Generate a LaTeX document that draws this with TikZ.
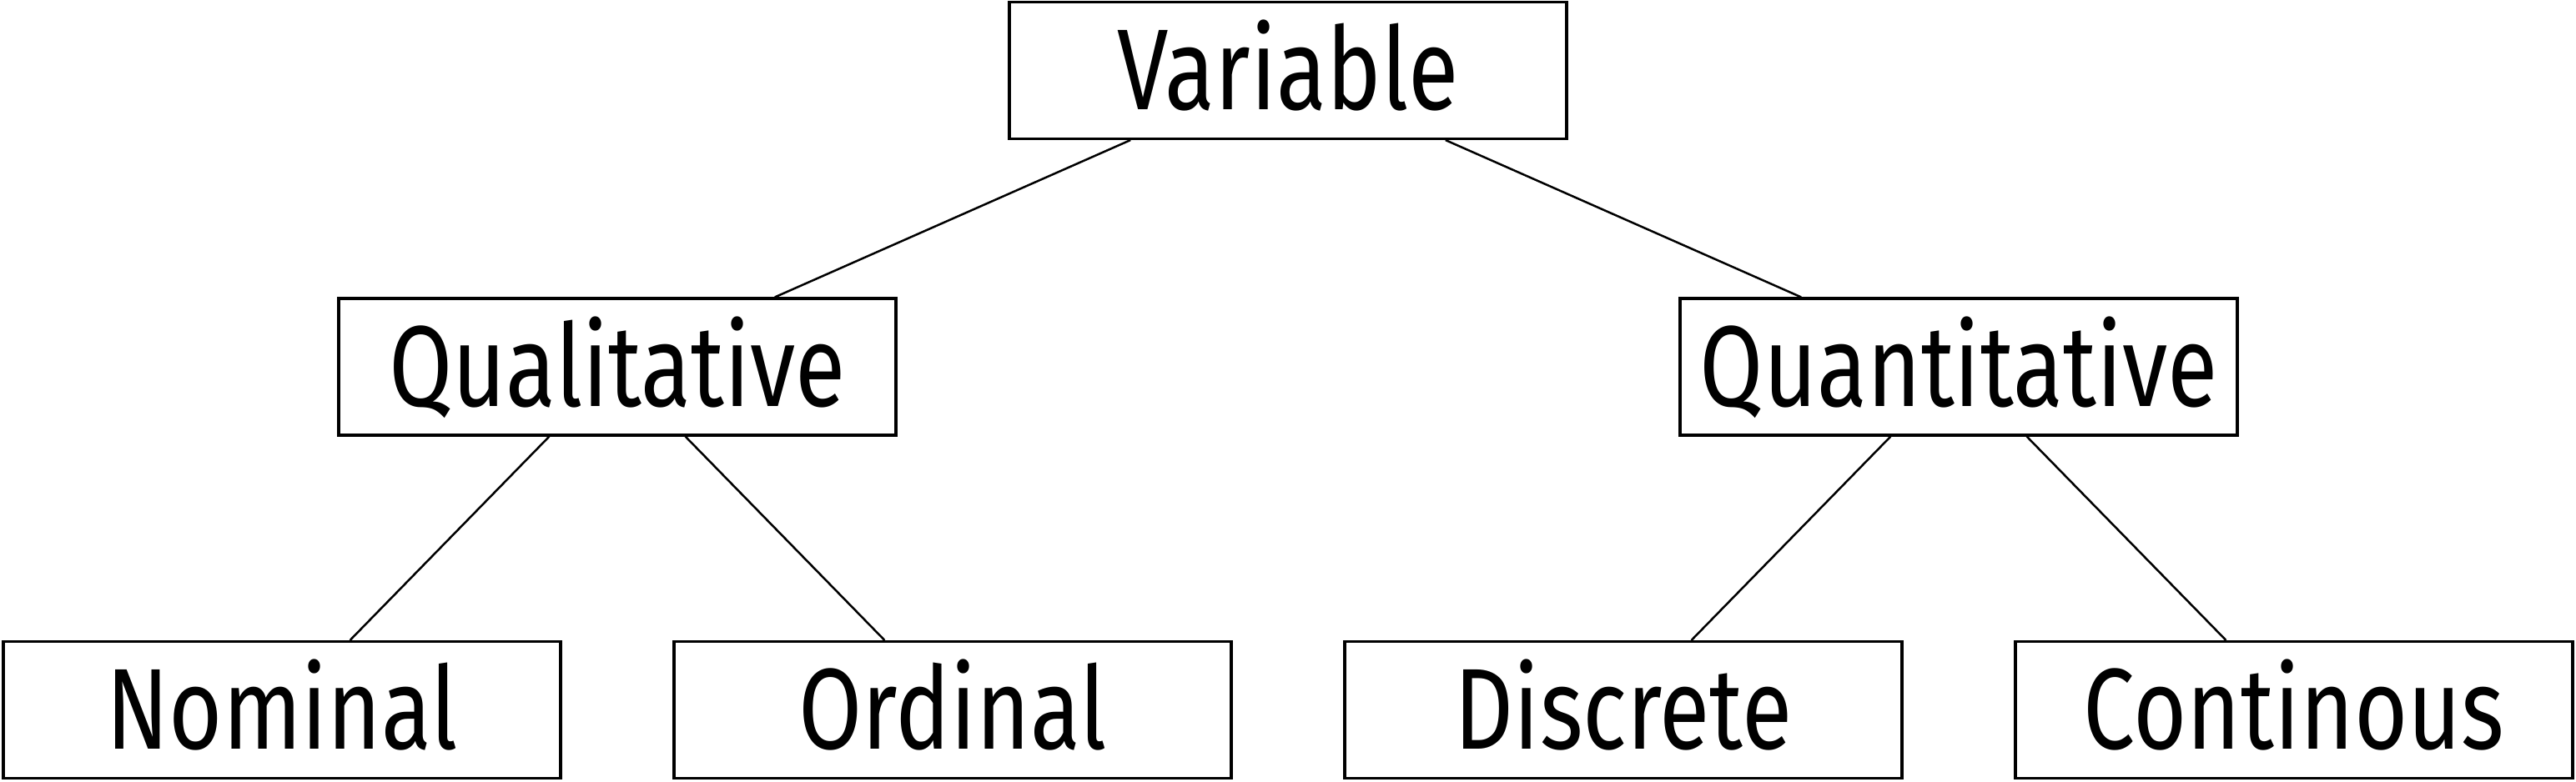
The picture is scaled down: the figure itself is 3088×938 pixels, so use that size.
\documentclass[tikz,border=0pt]{standalone}
\usepackage{fontspec}
\setmainfont{Fira Sans}
\newcommand\lbl[1]{\scalebox{0.8}[1]{#1}}
\begin{document}
\begin{tikzpicture}[x=0.25pt,y=-0.25pt,
  box/.style={draw, line width=0.875pt, minimum width=166.9pt, minimum height=40.9pt,
    inner sep=0pt, text height=23.75pt, text depth=0pt,
    font=\fontsize{34.5pt}{40pt}\selectfont},
  link/.style={line width=0.625pt}]
\useasboundingbox (0,0) rectangle (3088,938);
\node[box] (var) at (1544,84.5) {\lbl{Variable}};
\node[box] (qual) at (740,440) {\lbl{Qualitative}};
\node[box] (quan) at (2348,440) {\lbl{Quantitative}};
\node[box] (nom) at (338,851.5) {\lbl{Nominal}};
\node[box] (ord) at (1142,851.5) {\lbl{Ordinal}};
\node[box] (dis) at (1946,851.5) {\lbl{Discrete}};
\node[box] (con) at (2750,851.5) {\lbl{Continous}};
\draw[link] (var) -- (qual);
\draw[link] (var) -- (quan);
\draw[link] (qual) -- (nom);
\draw[link] (qual) -- (ord);
\draw[link] (quan) -- (dis);
\draw[link] (quan) -- (con);
\end{tikzpicture}
\end{document}
